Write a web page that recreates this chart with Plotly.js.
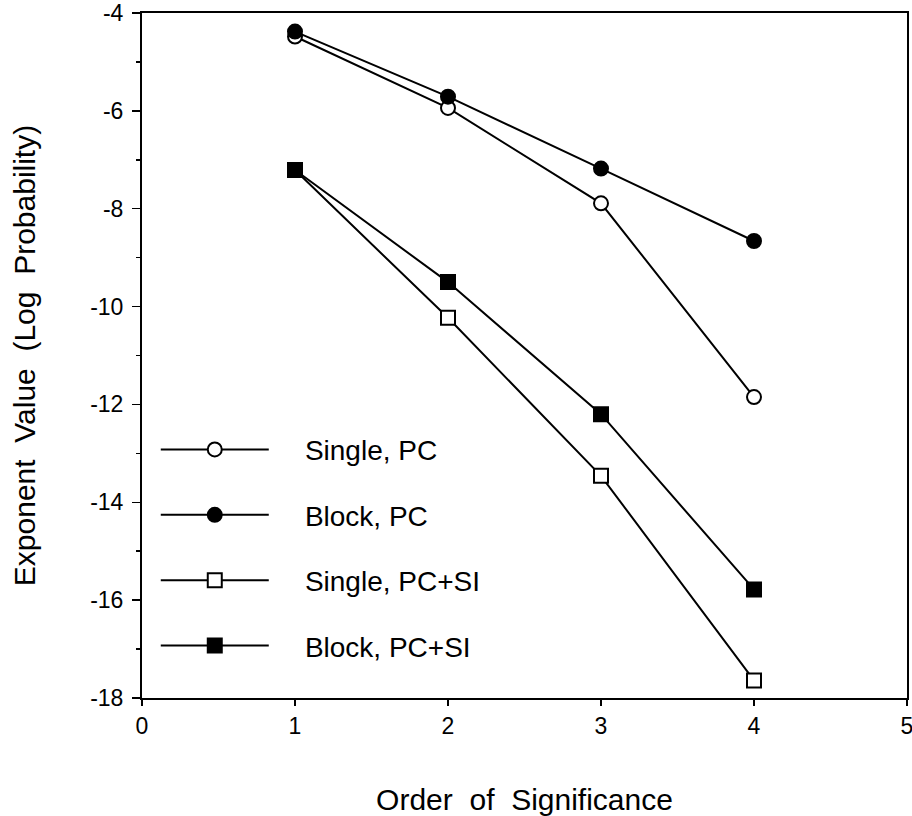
<!DOCTYPE html>
<html>
<head>
<meta charset="utf-8">
<script src="https://cdn.plot.ly/plotly-3.0.1.min.js"></script>
<style>html,body{margin:0;padding:0;background:#fff;}</style>
</head>
<body>
<div id="chart" style="width:912px;height:816px;"></div>
<script>
var order = [1, 2, 3, 4];
var singlePC = [-4.48, -5.94, -7.89, -11.85];
var blockPC = [-4.38, -5.71, -7.18, -8.66];
var singlePCSI = [-7.21, -10.23, -13.46, -17.64];
var blockPCSI = [-7.21, -9.50, -12.20, -15.78];
var seriesNames = ['Single, PC', 'Block, PC', 'Single, PC+SI', 'Block, PC+SI'];
var xTickVals = [0, 1, 2, 3, 4, 5];
var yTickVals = [-18, -16, -14, -12, -10, -8, -6, -4];
var yTickText = ['-18', '-16', '-14', '-12', '-10', '-8', '-6', '-4'];

var FONT = 'Liberation Sans, Arial, Helvetica, sans-serif';
var PAD = '\u00A0\u00A0\u00A0\u00A0';
function mk(y, name, symbol, fill) {
  return {
    x: order, y: y, name: PAD + name, type: 'scatter', mode: 'lines+markers',
    legendgroup: name,
    line: {color: '#000', width: 2},
    marker: {symbol: symbol, size: 14, color: fill, line: {color: '#000', width: 2}}
  };
}
var data = [
  mk(singlePC, seriesNames[0], 'circle', '#fff'),
  mk(blockPC, seriesNames[1], 'circle', '#000'),
  mk(singlePCSI, seriesNames[2], 'square', '#fff'),
  mk(blockPCSI, seriesNames[3], 'square', '#000')
];
var layout = {
  width: 912, height: 816,
  margin: {l: 142, r: 5, t: 13, b: 118},
  paper_bgcolor: '#fff', plot_bgcolor: '#fff',
  font: {family: FONT, color: '#000', size: 23},
  showlegend: true,
  legend: {
    x: 0.018, y: 0.399, xanchor: 'left', yanchor: 'top',
    bgcolor: 'rgba(0,0,0,0)', borderwidth: 0,
    font: {size: 28, family: FONT, color: '#000'},
    itemwidth: 108, traceorder: 'grouped', tracegroupgap: 26
  },
  xaxis: {
    range: [0, 5], tickvals: xTickVals,
    showgrid: false, zeroline: false,
    showline: true, linecolor: '#000', linewidth: 2, mirror: true,
    ticks: 'outside', ticklen: 6, tickwidth: 1.5, tickcolor: '#000',
    tickfont: {size: 23}, ticklabeloverflow: 'allow',
    title: {text: 'Order\u00A0\u00A0of\u00A0\u00A0Significance', font: {size: 30}, standoff: 55}
  },
  yaxis: {
    range: [-18, -4], tickvals: yTickVals, ticktext: yTickText,
    showgrid: false, zeroline: false,
    showline: true, linecolor: '#000', linewidth: 2, mirror: true,
    ticks: 'outside', ticklen: 8, tickwidth: 1.5, tickcolor: '#000',
    minor: {dtick: 1, ticks: 'outside', ticklen: 4, tickwidth: 1.5, tickcolor: '#000', showgrid: false},
    tickfont: {size: 23}, ticklabelstandoff: 4,
    title: {text: 'Exponent\u00A0\u00A0Value\u00A0\u00A0(Log\u00A0\u00A0Probability)', font: {size: 30}, standoff: 46}
  }
};
Plotly.newPlot('chart', data, layout, {staticPlot: true, displayModeBar: false});
</script>
</body>
</html>
